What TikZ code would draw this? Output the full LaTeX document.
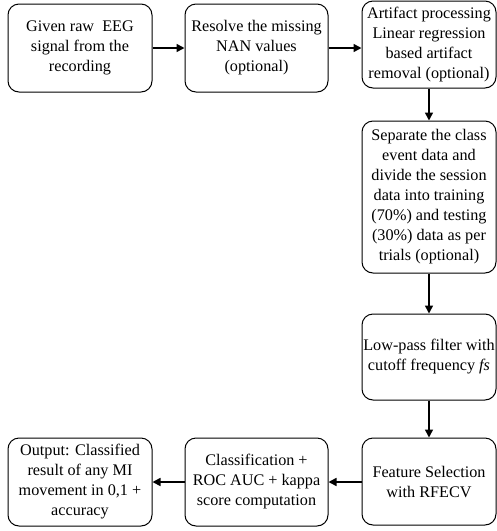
\documentclass[tikz,border=0pt]{standalone}
\usepackage{fontspec}
\setmainfont{Liberation Serif}
\usepackage{tikz}
\usetikzlibrary{arrows.meta}

\tikzset{
  stepbox/.style={draw, line width=1pt, rounded corners=11pt, align=center,
    inner sep=0.5pt, font=\fontsize{16.2}{20}\selectfont},
  flow/.style={line width=1.6pt, -{Triangle[length=8pt,width=8pt]}}
}

\begin{document}
\begin{tikzpicture}[x=1pt,y=-1pt]
    \useasboundingbox (0,0) rectangle (497,531);
    % top row
    \node[stepbox, minimum width=144, minimum height=88] (raw) at (80,48)
      {Given raw\ \ EEG\\ signal from the\\ recording};
    \node[stepbox, minimum width=143, minimum height=88] (nan) at (256.5,48)
      {Resolve the missing\\ NAN values\\ (optional)};
    \node[stepbox, minimum width=134, minimum height=87] (artif) at (429,44.5)
      {Artifact processing\\ Linear regression\\ based artifact\\ removal (optional)};
    % right column
    \node[stepbox, minimum width=134, minimum height=152] (split) at (429,197)
      {Separate the class\\ event data and\\ divide the session\\ data into training\\ (70\%) and testing\\ (30\%) data as per\\ trials (optional)};
    \node[stepbox, minimum width=134, minimum height=86] (lowpass) at (429,357)
      {Low-pass filter with\\ cutoff frequency \textit{fs}};
    \node[stepbox, minimum width=134, minimum height=87] (rfecv) at (429,481.5)
      {Feature Selection\\ with RFECV};
    % bottom row
    \node[stepbox, minimum width=143, minimum height=88] (classif) at (256.5,482)
      {Classification +\\ ROC AUC + kappa\\ score computation};
    \node[stepbox, minimum width=144, minimum height=88] (output) at (80,482)
      {Output: Classified\\ result of any MI\\ movement in 0,1 +\\ accuracy};

    \draw[flow] (raw) -- (nan);
    \draw[flow] (nan) -- (artif.west |- nan);
    \draw[flow] (artif) -- (split);
    \draw[flow] (split) -- (lowpass);
    \draw[flow] (lowpass) -- (rfecv);
    \draw[flow] (rfecv.west |- classif) -- (classif);
    \draw[flow] (classif) -- (output);
  \end{tikzpicture}
\end{document}
